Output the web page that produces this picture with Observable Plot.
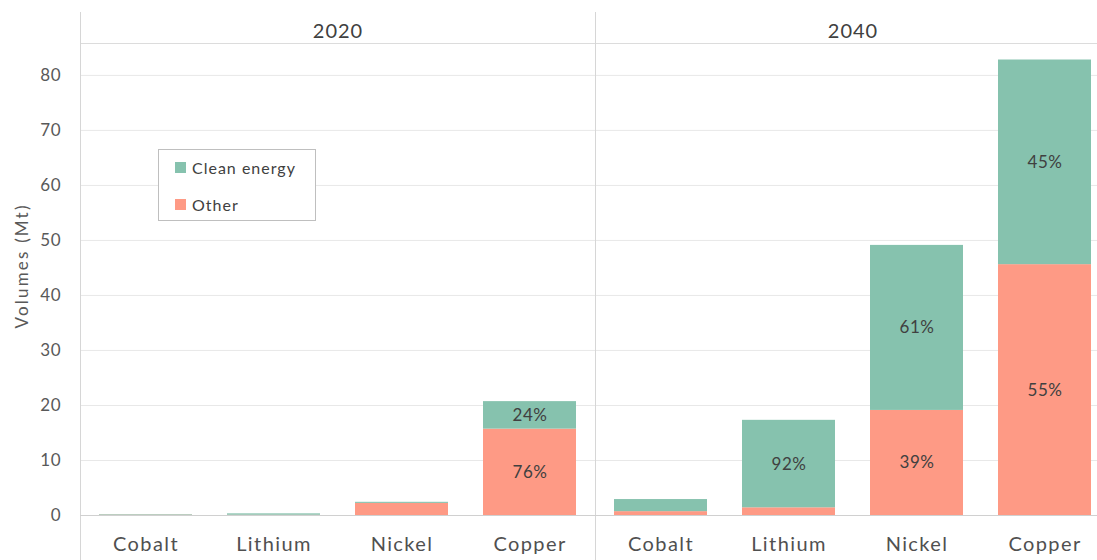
<!DOCTYPE html>
<html>
<head>
<meta charset="utf-8">
<script src="https://cdn.jsdelivr.net/npm/d3@7"></script>
<script src="https://cdn.jsdelivr.net/npm/@observablehq/plot@0.6"></script>
<style>
  html, body { margin: 0; padding: 0; background: #fff; overflow: hidden; }
  #wrap { position: relative; width: 1097px; height: 560px; }
  #legend { position: absolute; left: 158px; top: 149px; width: 156px; height: 70px;
    border: 1px solid #bfbfbf; background: #fff; font-family: Lato, sans-serif; font-size: 16px;
    color: #404040; letter-spacing: 1px; }
  .item { position: absolute; left: 16px; display: flex; align-items: center; }
  .sw { width: 11px; height: 11px; margin-right: 6px; }
  g[aria-label="x-axis tick label"] { letter-spacing: 1.4px; }
  g[aria-label="fx-axis tick label"] { letter-spacing: 1px; }
  g[aria-label="y-axis tick label"] { letter-spacing: 0.8px; }
  g.ylab { letter-spacing: 2.2px; }
  g.pct { letter-spacing: 0.6px; }
</style>
</head>
<body>
<div id="wrap"><div id="chart"></div><div id="legend"></div></div>
<script>
const minerals = ["Cobalt", "Lithium", "Nickel", "Copper"];
const years = ["2020", "2040"];
const seriesNames = ["Clean energy", "Other"];
const seriesColors = ["#86c2ae", "#fe9a85"];
const clean2020 = [0.1, 0.25, 0.2, 5.0];
const other2020 = [0.06, 0.05, 2.2, 15.7];
const clean2040 = [2.2, 15.9, 30.0, 37.2];
const other2040 = [0.7, 1.4, 19.1, 45.6];
const cleanLabels2020 = ["", "", "", "24%"];
const otherLabels2020 = ["", "", "", "76%"];
const cleanLabels2040 = ["", "92%", "61%", "45%"];
const otherLabels2040 = ["", "", "39%", "55%"];
const yTicks = [0, 10, 20, 30, 40, 50, 60, 70, 80];
const yTitle = "Volumes (Mt)";

const rows = [];
const add = (year, type, vals, labs) => vals.forEach((v, i) =>
  rows.push({year, mineral: minerals[i], type, value: v, label: labs[i]}));
add("2020", "Other", other2020, otherLabels2020);
add("2020", "Clean energy", clean2020, cleanLabels2020);
add("2040", "Other", other2040, otherLabels2040);
add("2040", "Clean energy", clean2040, cleanLabels2040);

const order = ["Other", "Clean energy"];

const chart = Plot.plot({
  width: 1097,
  height: 560,
  marginLeft: 80,
  marginRight: -13,
  marginTop: 43,
  marginBottom: 45,
  style: {fontFamily: "Lato, sans-serif", fontSize: "15px", color: "#595959", background: "white", overflow: "visible"},
  fx: {domain: years, paddingInner: 0, paddingOuter: 0, label: null},
  x: {domain: minerals, paddingInner: 0.27, paddingOuter: 0.135, label: null},
  y: {domain: [0, 85.8], label: null},
  color: {domain: seriesNames, range: seriesColors},
  marks: [
    Plot.gridY(yTicks, {stroke: "#e8e8e8", strokeOpacity: 1}),
    Plot.frame({anchor: "top", stroke: "#dcdcdc"}),
    Plot.frame({anchor: "left", stroke: "#d6d6d6", insetTop: -31, insetBottom: -45}),
    Plot.barY(rows, Plot.stackY({order}, {fx: "year", x: "mineral", y: "value", fill: "type"})),
    Plot.ruleY([0], {stroke: "#d0d0d0"}),
    Plot.text(rows, Plot.stackY({order}, {fx: "year", x: "mineral", y: "value", z: "type", text: "label",
      fill: "#404040", fontSize: 17, className: "pct"})),
    Plot.axisFx({anchor: "top", tickSize: 0, tickPadding: 6, fontSize: 20, fill: "#404040", label: null}),
    Plot.axisX({tickSize: 0, tickPadding: 21, fontSize: 20, fill: "#505050", label: null}),
    Plot.axisY(yTicks, {tickSize: 0, tickPadding: 19, fontSize: 17, fill: "#595959", label: null}),
    Plot.text([yTitle], {text: d => d, frameAnchor: "left", rotate: -90, dx: -58, dy: 49,
      fontSize: 17, fill: "#595959", facetAnchor: "left", className: "ylab"})
  ]
});
document.getElementById("chart").appendChild(chart);

const legend = document.getElementById("legend");
seriesNames.forEach((name, i) => {
  const it = document.createElement("div");
  it.className = "item";
  it.style.top = (i === 0 ? 8 : 45) + "px";
  const sw = document.createElement("div");
  sw.className = "sw";
  sw.style.background = seriesColors[i];
  const t = document.createElement("span");
  t.textContent = name;
  it.appendChild(sw); it.appendChild(t);
  legend.appendChild(it);
});
</script>
</body>
</html>
